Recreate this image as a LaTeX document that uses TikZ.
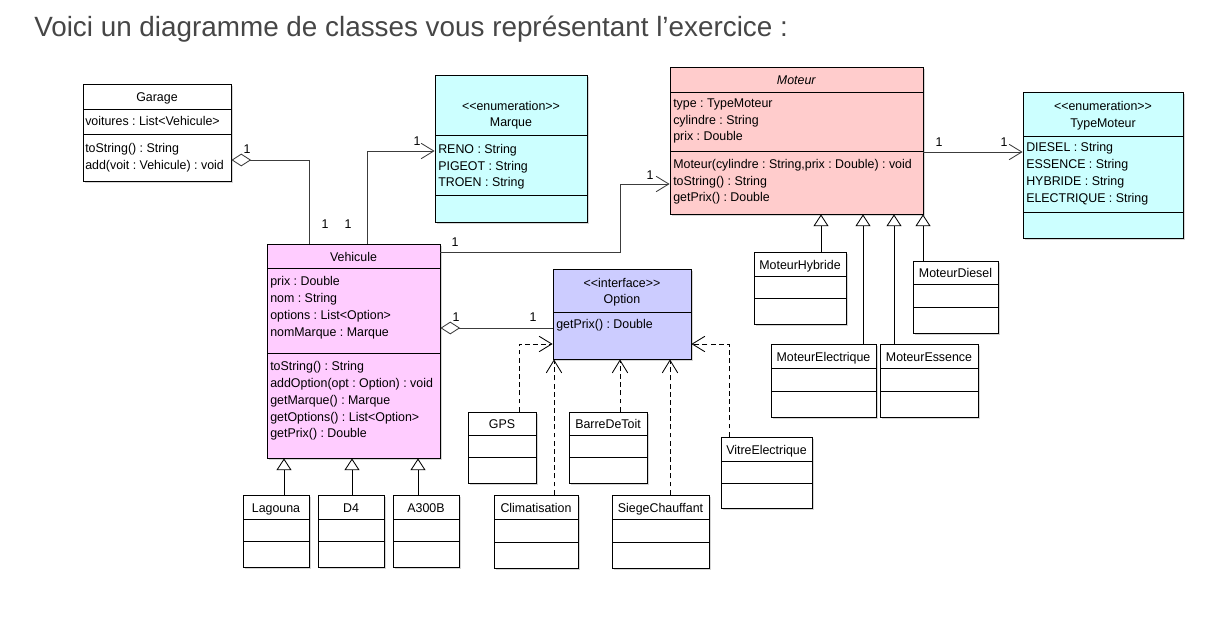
\documentclass[tikz,border=0pt]{standalone}
\usepackage{fontspec}
\setmainfont{Liberation Sans}[Ligatures=TeXOff]
\newfontfamily\umlfamily{Liberation Sans}[Ligatures=TeXOff, FakeStretch=0.98]
\usepackage{xcolor}
\usetikzlibrary{arrows.meta, fit, shadows}
\definecolor{enumcyan}{RGB}{204, 255, 255}
\definecolor{moteurpink}{RGB}{255, 204, 204}
\definecolor{vehiculepink}{RGB}{255, 204, 255}
\definecolor{optionblue}{RGB}{204, 204, 255}
\definecolor{linegray}{RGB}{60, 60, 60}
\definecolor{titlegray}{RGB}{70, 70, 70}
\newcommand{\classfont}{\umlfamily\fontsize{9}{11.9}\selectfont\frenchspacing}
% #1 fill, #2 name, #3 x1, #4 y1, #5 x2, #6 y2, #7 first rule, #8 second rule, #9 title
\newcommand{\umlclass}[9][white]{%
  \node[classbox, fill=#1, fit={(#3,#4) (#5,#6)}] (#2) {};
  \draw[classrule] (#3,#7) -- (#5,#7);
  \draw[classrule] (#3,#8) -- (#5,#8);
  \node[classname] (#2-name) at ({(#3+#5)/2},{(#4+#7)/2+1.7}) {\strut #9};
}

\begin{document}
\begin{tikzpicture}[x=0.025cm, y=-0.025cm,
    classbox/.style={draw=black, line width=0.6pt, inner sep=0pt,
      drop shadow={shadow xshift=0.04cm, shadow yshift=-0.04cm, fill=black!40, opacity=0.4}},
    classrule/.style={line width=0.6pt},
    classname/.style={font=\classfont, align=center, inner sep=0pt, anchor=center},
    members/.style={font=\classfont, align=left, anchor=north west, inner sep=0pt},
    mult/.style={font=\classfont, inner sep=0pt},
    assoc/.style={draw=linegray, line width=0.6pt, -{Straight Barb[length=9pt, width=11pt]}},
    aggreg/.style={draw=linegray, line width=0.6pt, {Diamond[open, fill=white, length=14pt, width=9pt]}-},
    realize/.style={draw=black, line width=0.6pt, dash pattern=on 3.5pt off 2.3pt, -{Straight Barb[length=9pt, width=11pt]}},
    generalize/.style={draw=black, line width=0.6pt, -{Triangle[open, fill=white, length=8.3pt, width=10.6pt]}}]

    % Page
    \fill[white] (0,0) rectangle (1225,618);
    \useasboundingbox (0,0) rectangle (1225,618);
    \node[anchor=base west, inner sep=0pt, font=\fontsize{19.8}{22}\selectfont, text=titlegray] (title) at (34,36) {Voici un diagramme de classes vous représentant l’exercice :};

    % Main classes
    \umlclass{garage}{83}{84}{231}{181}{109}{134}{Garage}
    \node[members] (garage-attr) at (85,114) {\strut voitures : List<Vehicule>};
    \node[members] (garage-ops) at (85,141) {\strut toString() : String\\add(voit : Vehicule) : void};

    \umlclass[enumcyan]{marque}{435}{75}{587}{222}{135}{195}{\\\strut <<enumeration>>\\\strut Marque}
    \node[members] (marque-attr) at (438,141.5) {\strut RENO : String\\PIGEOT : String\\TROEN : String};

    \umlclass[moteurpink]{moteur}{670}{67}{923}{214}{92}{151}{\textit{Moteur}}
    \node[members] (moteur-attr) at (673,95.5) {\strut type : TypeMoteur\\cylindre : String\\prix : Double};
    \node[members] (moteur-ops) at (673,156.5) {\strut Moteur(cylindre : String,prix : Double) : void\\toString() : String\\getPrix() : Double};

    \umlclass[enumcyan]{typemoteur}{1023}{92}{1183}{238}{136}{212}{<<enumeration>>\\\strut TypeMoteur}
    \node[members] (typemoteur-attr) at (1026,140) {\strut DIESEL : String\\ESSENCE : String\\HYBRIDE : String\\ELECTRIQUE : String};

    \umlclass[vehiculepink]{vehicule}{267}{244}{440}{458}{268}{353}{Vehicule}
    \node[members] (vehicule-attr) at (270,274) {\strut prix : Double\\nom : String\\options : List<Option>\\nomMarque : Marque};
    \node[members] (vehicule-ops) at (270,359) {\strut toString() : String\\addOption(opt : Option) : void\\getMarque() : Marque\\getOptions() : List<Option>\\getPrix() : Double};

    \umlclass[optionblue]{option}{553}{269}{691}{359}{312}{312}{<<interface>>\\\strut Option}
    \node[members] (option-ops) at (556,316.5) {\strut getPrix() : Double};

    % Subclasses of Vehicule
    \umlclass{lagouna}{243}{495}{309}{567}{519}{541}{Lagouna}
    \umlclass{d4}{318}{495}{384}{567}{519}{541}{D4}
    \umlclass{a300b}{393}{495}{459}{567}{519}{541}{A300B}

    % Options
    \umlclass{gps}{468}{412}{536}{483}{435}{457}{GPS}
    \umlclass{barre}{569}{412}{647}{483}{435}{457}{BarreDeToit}
    \umlclass{climatisation}{494}{495}{578}{568}{519}{542}{Climatisation}
    \umlclass{siege}{612}{495}{709}{568}{519}{542}{SiegeChauffant}
    \umlclass{vitre}{721}{437}{812}{508}{461}{483}{VitreElectrique}

    % Subclasses of Moteur
    \umlclass{hybride}{754}{252}{846}{324}{276}{298}{MoteurHybride}
    \umlclass{diesel}{913}{261}{998}{333}{284}{307}{MoteurDiesel}
    \umlclass{electrique}{771}{344}{876}{417}{368}{391}{MoteurElectrique}
    \umlclass{essence}{880}{344}{978}{417}{368}{391}{MoteurEssence}

    % Associations
    \draw[aggreg] (garage.east |- 0,160) -| (309,0 |- vehicule.north);
    \draw[assoc] (367,0 |- vehicule.north) |- (marque.west |- 0,151);
    \draw[assoc] (vehicule.east |- 0,252) -| (620,184) -- (moteur.west |- 0,184);
    \draw[assoc] (moteur.east |- 0,152) -- (typemoteur.west |- 0,152);
    \draw[aggreg] (vehicule.east |- 0,328) -- (option.west |- 0,328);

    % Multiplicities
    \node[mult] (m-garage) at (247,149) {1};
    \node[mult] (m-veh-garage) at (325,224) {1};
    \node[mult] (m-veh-marque) at (348,224) {1};
    \node[mult] (m-marque) at (417,141) {1};
    \node[mult] (m-veh-moteur) at (455,242) {1};
    \node[mult] (m-moteur) at (650,175) {1};
    \node[mult] (m-moteur-type) at (939,142) {1};
    \node[mult] (m-type) at (1004,142) {1};
    \node[mult] (m-veh-option) at (456,317) {1};
    \node[mult] (m-option) at (533,317) {1};

    % Realizations of Option
    \draw[realize] (519,0 |- gps.north) |- (option.west |- 0,344);
    \draw[realize] (554,0 |- climatisation.north) -- (554,0 |- option.south);
    \draw[realize] (620,0 |- barre.north) -- (620,0 |- option.south);
    \draw[realize] (670,0 |- siege.north) -- (670,0 |- option.south);
    \draw[realize] (729,0 |- vitre.north) |- (option.east |- 0,344);

    % Generalizations
    \draw[generalize] (284,0 |- lagouna.north) -- (284,0 |- vehicule.south);
    \draw[generalize] (352,0 |- d4.north) -- (352,0 |- vehicule.south);
    \draw[generalize] (418,0 |- a300b.north) -- (418,0 |- vehicule.south);
    \draw[generalize] (821,0 |- hybride.north) -- (821,0 |- moteur.south);
    \draw[generalize] (863,0 |- electrique.north) -- (863,0 |- moteur.south);
    \draw[generalize] (894,0 |- essence.north) -- (894,0 |- moteur.south);
    \draw[generalize] (923,0 |- diesel.north) -- (923,0 |- moteur.south);
\end{tikzpicture}
\end{document}
